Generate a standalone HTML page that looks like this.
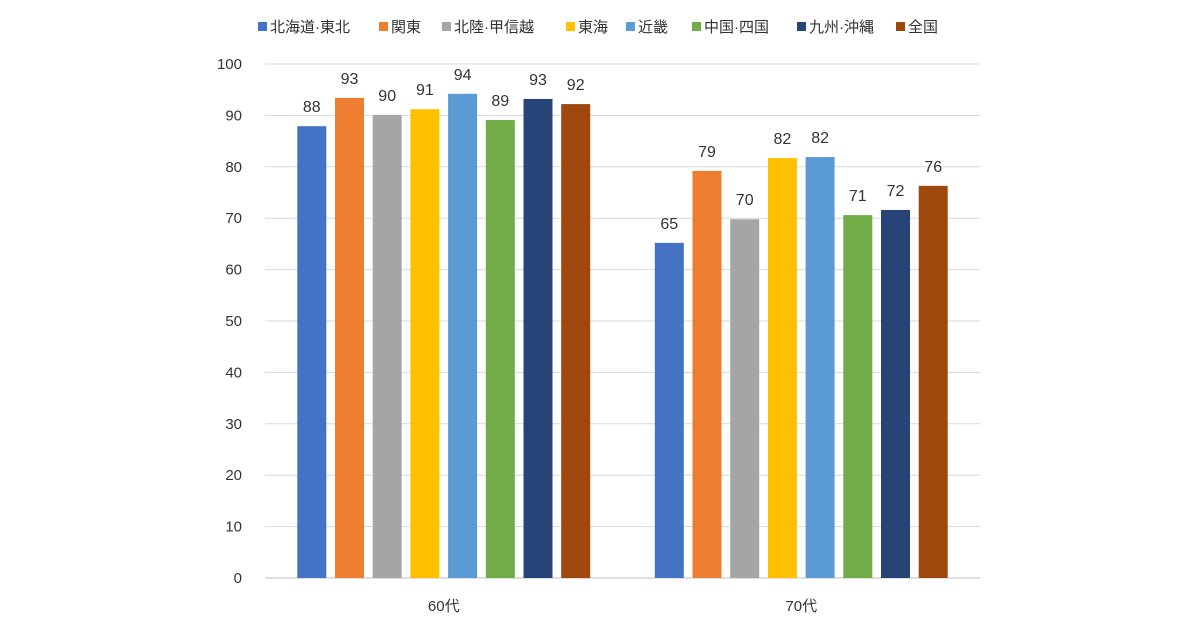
<!DOCTYPE html>
<html><head><meta charset="utf-8"><style>
body{margin:0;background:#fff;}
svg text{font-family:"Liberation Sans","Noto Sans CJK JP",sans-serif;fill:#333;}
</style></head><body>
<svg id="chart" width="1200" height="630" xmlns="http://www.w3.org/2000/svg"></svg>
<script>
const categories=["60代","70代"];
const seriesNames=["北海道·東北","関東","北陸·甲信越","東海","近畿","中国·四国","九州·沖縄","全国"];
const seriesColors=["#4472C4","#ED7D31","#A5A5A5","#FFC000","#5B9BD5","#70AD47","#264478","#9E480E"];
const values60=[87.9,93.4,90.1,91.2,94.2,89.1,93.2,92.2];
const values70=[65.2,79.2,69.8,81.7,81.9,70.6,71.6,76.3];
const yTicks=[0,10,20,30,40,50,60,70,80,90,100];
const legendX=[258,379,442,566,626,692,797,896];

const svg=document.getElementById('chart');
const NS="http://www.w3.org/2000/svg";
const L=265,R=980,T=64,B=578;
const y=v=>B-(B-T)*v/100;
const catW=(R-L)/categories.length;
const pitch=37.7,bw=29;
function mk(tag,attrs,txt){const e=document.createElementNS(NS,tag);for(const k in attrs)e.setAttribute(k,attrs[k]);if(txt!==undefined)e.textContent=txt;svg.appendChild(e);return e;}
yTicks.forEach(t=>{
  const g=mk('line',{x1:L,x2:R,y1:y(t),y2:y(t),stroke:t===0?'#bfbfbf':'#d9d9d9','stroke-width':1});
  
  
  const lb=mk('text',{x:242,y:y(t)+5,'text-anchor':'end','font-size':15},String(t));
  
  
});
const allVals=[values60,values70];
categories.forEach((c,ci)=>{
  const cx=L+catW*(ci+0.5);
  const start=cx-pitch*(seriesNames.length-1)/2;
  allVals[ci].forEach((v,si)=>{
    const x=start+pitch*si-bw/2;
    const r=mk('rect',{x:x,y:y(v),width:bw,height:B-y(v),fill:seriesColors[si]});
    
    
    const t=mk('text',{x:x+bw/2,y:y(v)-14,'text-anchor':'middle','font-size':16},String(Math.round(v)));
    
    
  });
  const xl=mk('text',{x:cx,y:611,'text-anchor':'middle','font-size':15},c);
  
  
});
seriesNames.forEach((n,si)=>{
  const s=mk('rect',{x:legendX[si],y:22,width:9,height:9,fill:seriesColors[si]});
  
  
  const t=mk('text',{x:legendX[si]+12,y:32,'font-size':15},n);
  
  
});
</script>
</body></html>
